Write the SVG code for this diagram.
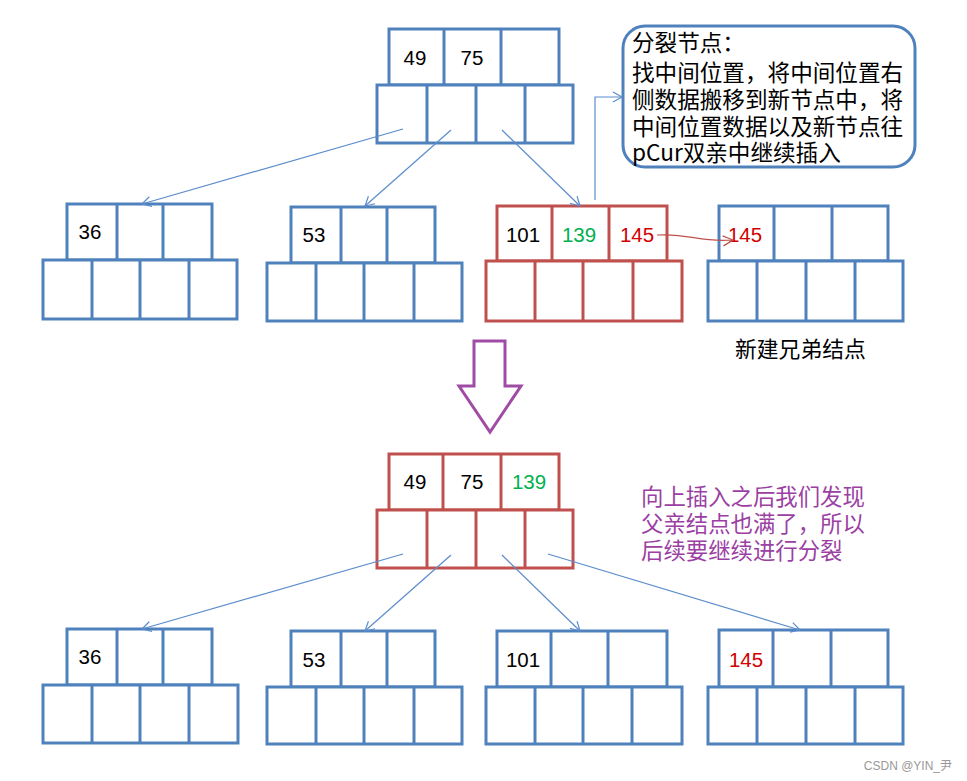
<svg xmlns="http://www.w3.org/2000/svg" width="967" height="781" viewBox="0 0 967 781">
<defs>
<style>
.b{fill:#fff;stroke:#4f81bd;stroke-width:3}
.r{fill:#fff;stroke:#c0504d;stroke-width:3}
.bl{stroke:#4f81bd;stroke-width:3}
.rl{stroke:#c0504d;stroke-width:3}
.n{font-family:"Liberation Sans","Open Sans",sans-serif;font-size:20.5px;text-anchor:middle;fill:#000}
.cj{font-family:"Noto Sans CJK SC","Liberation Sans",sans-serif;font-size:22.6px;fill:#000}
.pu{font-family:"Noto Sans CJK SC","Liberation Sans",sans-serif;font-size:22.4px;fill:#9b3fa3}
.c{fill:none;stroke:#5b8ccc;stroke-width:1.2}
</style>
<marker id="ah" markerWidth="12" markerHeight="12" refX="10" refY="6" orient="auto" markerUnits="userSpaceOnUse">
<path d="M1,1 L10,6 L1,11" fill="none" stroke="#5b8ccc" stroke-width="1.2"/>
</marker>
<marker id="ahr" markerWidth="14" markerHeight="12" refX="11" refY="6" orient="auto" markerUnits="userSpaceOnUse">
<path d="M1,1 L11,6 L1,11" fill="none" stroke="#c0504d" stroke-width="1.2"/>
</marker>
</defs>
<rect width="967" height="781" fill="#fff"/>

<g id="top-node">
<rect class="b" x="389" y="29" width="170" height="56"/>
<line class="bl" x1="444" y1="29" x2="444" y2="85"/><line class="bl" x1="501" y1="29" x2="501" y2="85"/>
<rect class="b" x="377" y="85" width="196" height="58"/>
<line class="bl" x1="427" y1="85" x2="427" y2="143"/><line class="bl" x1="476" y1="85" x2="476" y2="143"/><line class="bl" x1="525" y1="85" x2="525" y2="143"/>
<text class="n" x="415" y="65">49</text><text class="n" x="472" y="65">75</text>
</g>

<g id="callout">
<rect x="623" y="26" width="292" height="141" rx="22" fill="#fff" stroke="#4f81bd" stroke-width="3"/>
<text class="cj" x="632" y="51">分裂节点：</text>
<text class="cj" x="632" y="81">找中间位置，将中间位置右</text>
<text class="cj" x="632" y="108">侧数据搬移到新节点中，将</text>
<text class="cj" x="632" y="135">中间位置数据以及新节点往</text>
<text class="cj" x="632" y="161">pCur双亲中继续插入</text>
</g>

<g id="node-36">
<rect class="b" x="67" y="204" width="145" height="56"/>
<line class="bl" x1="117" y1="204" x2="117" y2="260"/><line class="bl" x1="163" y1="204" x2="163" y2="260"/>
<rect class="b" x="43" y="260" width="194" height="59"/>
<line class="bl" x1="92" y1="260" x2="92" y2="319"/><line class="bl" x1="140" y1="260" x2="140" y2="319"/><line class="bl" x1="189" y1="260" x2="189" y2="319"/>
<text class="n" x="90" y="239">36</text>
</g>

<g id="node-53">
<rect class="b" x="291" y="207" width="144" height="56"/>
<line class="bl" x1="341" y1="207" x2="341" y2="263"/><line class="bl" x1="387" y1="207" x2="387" y2="263"/>
<rect class="b" x="267" y="263" width="195" height="58"/>
<line class="bl" x1="316" y1="263" x2="316" y2="321"/><line class="bl" x1="364" y1="263" x2="364" y2="321"/><line class="bl" x1="414" y1="263" x2="414" y2="321"/>
<text class="n" x="314" y="242">53</text>
</g>

<g id="node-split">
<rect class="r" x="497" y="206" width="170" height="55"/>
<line class="rl" x1="552" y1="206" x2="552" y2="261"/><line class="rl" x1="609" y1="206" x2="609" y2="261"/>
<rect class="r" x="486" y="261" width="196" height="60"/>
<line class="rl" x1="535" y1="261" x2="535" y2="321"/><line class="rl" x1="583" y1="261" x2="583" y2="321"/><line class="rl" x1="633" y1="261" x2="633" y2="321"/>
<text class="n" x="523" y="242">101</text>
<text class="n" x="579" y="242" style="fill:#00b050">139</text>
<text class="n" x="637" y="242" style="fill:#d00000">145</text>
</g>

<g id="node-sibling">
<rect class="b" x="719" y="206" width="169" height="55"/>
<line class="bl" x1="774" y1="206" x2="774" y2="261"/><line class="bl" x1="832" y1="206" x2="832" y2="261"/>
<rect class="b" x="708" y="261" width="195" height="60"/>
<line class="bl" x1="757" y1="261" x2="757" y2="321"/><line class="bl" x1="806" y1="261" x2="806" y2="321"/><line class="bl" x1="855" y1="261" x2="855" y2="321"/>
<text class="n" x="745" y="242" style="fill:#d00000">145</text>
</g>

<g id="label-sibling">
<text class="cj" x="735" y="357" style="font-size:21.8px">新建兄弟结点</text>
</g>

<g id="down-arrow">
<path d="M474,341 L505,341 L505,386 L521,386 L490,432 L459,386 L474,386 Z" fill="#fff" stroke="#a04ca6" stroke-width="3" stroke-linejoin="miter"/>
</g>

<g id="top-node-after">
<rect class="r" x="389" y="454" width="170" height="56"/>
<line class="rl" x1="443" y1="454" x2="443" y2="510"/><line class="rl" x1="501" y1="454" x2="501" y2="510"/>
<rect class="r" x="377" y="510" width="196" height="58"/>
<line class="rl" x1="427" y1="510" x2="427" y2="568"/><line class="rl" x1="476" y1="510" x2="476" y2="568"/><line class="rl" x1="525" y1="510" x2="525" y2="568"/>
<text class="n" x="415" y="489">49</text><text class="n" x="472" y="489">75</text>
<text class="n" x="529" y="489" style="fill:#00b050">139</text>
</g>

<g id="note-after">
<text class="pu" x="641" y="505">向上插入之后我们发现</text>
<text class="pu" x="641" y="532">父亲结点也满了，所以</text>
<text class="pu" x="641" y="559">后续要继续进行分裂</text>
</g>

<g id="b-node-36">
<rect class="b" x="67" y="629" width="145" height="56"/>
<line class="bl" x1="117" y1="629" x2="117" y2="685"/><line class="bl" x1="163" y1="629" x2="163" y2="685"/>
<rect class="b" x="43" y="685" width="195" height="58"/>
<line class="bl" x1="92" y1="685" x2="92" y2="743"/><line class="bl" x1="140" y1="685" x2="140" y2="743"/><line class="bl" x1="189" y1="685" x2="189" y2="743"/>
<text class="n" x="90" y="664">36</text>
</g>

<g id="b-node-53">
<rect class="b" x="291" y="631" width="144" height="56"/>
<line class="bl" x1="341" y1="631" x2="341" y2="687"/><line class="bl" x1="387" y1="631" x2="387" y2="687"/>
<rect class="b" x="267" y="687" width="195" height="57"/>
<line class="bl" x1="316" y1="687" x2="316" y2="744"/><line class="bl" x1="364" y1="687" x2="364" y2="744"/><line class="bl" x1="414" y1="687" x2="414" y2="744"/>
<text class="n" x="314" y="667">53</text>
</g>

<g id="b-node-101">
<rect class="b" x="497" y="631" width="170" height="56"/>
<line class="bl" x1="551" y1="631" x2="551" y2="687"/><line class="bl" x1="608" y1="631" x2="608" y2="687"/>
<rect class="b" x="486" y="687" width="196" height="57"/>
<line class="bl" x1="535" y1="687" x2="535" y2="744"/><line class="bl" x1="583" y1="687" x2="583" y2="744"/><line class="bl" x1="632" y1="687" x2="632" y2="744"/>
<text class="n" x="523" y="667">101</text>
</g>

<g id="b-node-145">
<rect class="b" x="719" y="630" width="169" height="57"/>
<line class="bl" x1="773" y1="630" x2="773" y2="687"/><line class="bl" x1="831" y1="630" x2="831" y2="687"/>
<rect class="b" x="708" y="687" width="195" height="57"/>
<line class="bl" x1="757" y1="687" x2="757" y2="744"/><line class="bl" x1="806" y1="687" x2="806" y2="744"/><line class="bl" x1="855" y1="687" x2="855" y2="744"/>
<text class="n" x="746" y="667" style="fill:#d00000">145</text>
</g>

<g id="connectors">
<line class="c" x1="403" y1="129" x2="142" y2="204" marker-end="url(#ah)"/>
<line class="c" x1="451" y1="130" x2="365" y2="206" marker-end="url(#ah)"/>
<line class="c" x1="502" y1="130" x2="580" y2="206" marker-end="url(#ah)"/>
<path class="c" d="M595,200 L595,97 L622,97" marker-end="url(#ah)"/>
<path d="M657,235 C690,233 700,243 733,240" fill="none" stroke="#c0504d" stroke-width="1.2" marker-end="url(#ahr)"/>
<line class="c" x1="403" y1="554" x2="142" y2="629" marker-end="url(#ah)"/>
<line class="c" x1="451" y1="555" x2="365" y2="631" marker-end="url(#ah)"/>
<line class="c" x1="502" y1="555" x2="580" y2="631" marker-end="url(#ah)"/>
<line class="c" x1="548" y1="554" x2="800" y2="630" marker-end="url(#ah)"/>
</g>

<text x="952" y="770" text-anchor="end" style="font-family:'Liberation Sans','Noto Sans CJK SC',sans-serif;font-size:12px;fill:#999">CSDN @YIN_尹</text>
</svg>
